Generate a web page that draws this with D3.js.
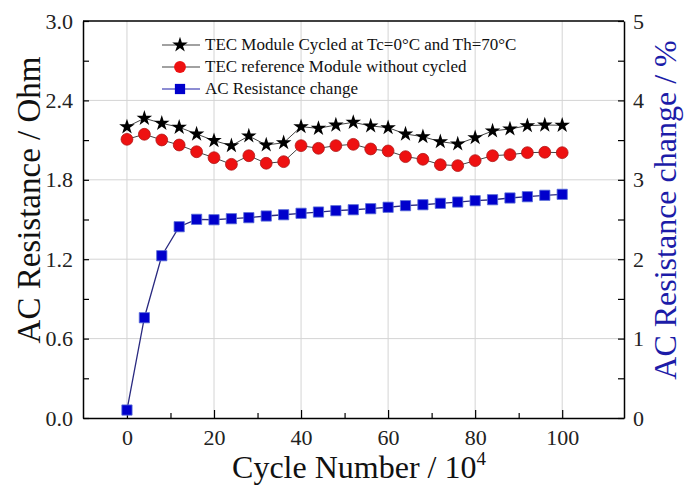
<!DOCTYPE html>
<html>
<head>
<meta charset="utf-8">
<script src="https://cdn.jsdelivr.net/npm/d3@7"></script>
<style>
  body { margin: 0; background: #fff; }
  text { font-family: "Liberation Serif", "Times New Roman", serif; }
</style>
</head>
<body>
<script>
// cycle number (x 10^4)
var cycles = [0, 4, 8, 12, 16, 20, 24, 28, 32, 36, 40, 44, 48, 52, 56, 60, 64, 68, 72, 76, 80, 84, 88, 92, 96, 100];
// AC resistance of cycled module, Ohm
var cycled = [2.20, 2.265, 2.227, 2.197, 2.146, 2.096, 2.058, 2.131, 2.063, 2.080, 2.201, 2.189, 2.214, 2.234, 2.207, 2.194, 2.146, 2.126, 2.088, 2.071, 2.118, 2.169, 2.184, 2.209, 2.214, 2.212];
// reference module, Ohm
var reference = [2.106, 2.144, 2.101, 2.063, 2.012, 1.967, 1.917, 1.982, 1.925, 1.937, 2.058, 2.038, 2.058, 2.068, 2.033, 2.018, 1.975, 1.955, 1.914, 1.907, 1.945, 1.982, 1.990, 2.005, 2.008, 2.005];
// AC resistance change, %
var change = [0.10, 1.263, 2.044, 2.409, 2.502, 2.497, 2.510, 2.523, 2.544, 2.560, 2.578, 2.594, 2.611, 2.623, 2.636, 2.654, 2.674, 2.686, 2.704, 2.720, 2.737, 2.749, 2.771, 2.787, 2.805, 2.817];

var xTicks = [0, 20, 40, 60, 80, 100];
var yTicks = [0, 0.6, 1.2, 1.8, 2.4, 3.0];
var y2Ticks = [0, 1, 2, 3, 4, 5];
var legendLabels = ['TEC Module Cycled at Tc=0\u00B0C and Th=70\u00B0C', 'TEC reference Module without cycled', 'AC Resistance change'];

var width = 696, height = 489;
var pL = 83, pR = 624, pT = 21, pB = 418;

var svg = d3.select('body').append('svg').attr('width', width).attr('height', height);

var x = d3.scaleLinear().domain([-10.1, 114.2]).range([pL, pR]);
var y = d3.scaleLinear().domain([0, 3]).range([pB, pT]);
var y2 = d3.scaleLinear().domain([0, 5]).range([pB, pT]);

// grid
svg.append('g').selectAll('line').data(xTicks).enter().append('line')
  .attr('x1', function(d) { return x(d); }).attr('x2', function(d) { return x(d); })
  .attr('y1', pT).attr('y2', pB)
  .attr('stroke', '#d4d4d4').attr('stroke-width', 1);
svg.append('g').selectAll('line').data(yTicks.slice(1, -1)).enter().append('line')
  .attr('y1', function(d) { return y(d); }).attr('y2', function(d) { return y(d); })
  .attr('x1', pL).attr('x2', pR)
  .attr('stroke', '#d4d4d4').attr('stroke-width', 1);

// axes (ticks inward)
var xAxis = svg.append('g').attr('transform', 'translate(0,' + pB + ')')
  .call(d3.axisBottom(x).tickValues(d3.range(0, 101, 10)).tickSizeInner(-7).tickSizeOuter(0).tickPadding(11)
    .tickFormat(function(d) { return d % 20 === 0 ? d : ''; }));
xAxis.selectAll('.tick line').attr('y2', function(d) { return d % 20 === 0 ? -8 : -5; });

var yAxis = svg.append('g').attr('transform', 'translate(' + pL + ',0)')
  .call(d3.axisLeft(y).tickValues(d3.range(0, 3.01, 0.3)).tickSizeInner(-6).tickSizeOuter(0).tickPadding(10)
    .tickFormat(function(d, i) { return i % 2 === 0 ? d3.format('.1f')(d) : ''; }));

var y2Axis = svg.append('g').attr('transform', 'translate(' + pR + ',0)')
  .call(d3.axisRight(y2).tickValues(d3.range(0, 5.01, 0.5)).tickSizeInner(-6).tickSizeOuter(0).tickPadding(9)
    .tickFormat(function(d, i) { return i % 2 === 0 ? d : ''; }));

svg.selectAll('.domain').attr('stroke', '#000').attr('stroke-width', 1.5);
svg.selectAll('.tick line').attr('stroke', '#000').attr('stroke-width', 1.2);
svg.selectAll('.tick text').attr('font-family', '"Liberation Serif", serif').attr('font-size', 22).attr('fill', '#222');

// top frame
svg.append('line').attr('x1', pL).attr('x2', pR).attr('y1', pT).attr('y2', pT)
  .attr('stroke', '#000').attr('stroke-width', 1.5);

// axis titles
svg.append('text').attr('x', 359).attr('y', 478).attr('text-anchor', 'middle')
  .attr('font-size', 32).attr('fill', '#111')
  .text('Cycle Number / 10').append('tspan').attr('dy', -13).attr('font-size', 19).text('4');
svg.append('text').attr('transform', 'translate(40,200) rotate(-90)').attr('text-anchor', 'middle')
  .attr('font-size', 33).attr('fill', '#111').text('AC Resistance / Ohm');
svg.append('text').attr('transform', 'translate(676,210) rotate(-90)').attr('text-anchor', 'middle')
  .attr('font-size', 32).attr('fill', '#1c1ca8').text('AC Resistance change / %');

// lines
var lineL = d3.line().x(function(d, i) { return x(cycles[i]); }).y(function(d) { return y(d); });
var lineR = d3.line().x(function(d, i) { return x(cycles[i]); }).y(function(d) { return y2(d); });

svg.append('path').datum(cycled).attr('d', lineL).attr('fill', 'none').attr('stroke', '#444').attr('stroke-width', 1);
svg.append('path').datum(reference).attr('d', lineL).attr('fill', 'none').attr('stroke', '#444').attr('stroke-width', 1);
svg.append('path').datum(change).attr('d', lineR).attr('fill', 'none').attr('stroke', '#2a2a80').attr('stroke-width', 1.3);

var star = d3.symbol().type(d3.symbolStar).size(75);
var circle = d3.symbol().type(d3.symbolCircle).size(110);
var square = d3.symbol().type(d3.symbolSquare).size(105);

svg.append('g').selectAll('path').data(cycled).enter().append('path')
  .attr('d', star).attr('transform', function(d, i) { return 'translate(' + x(cycles[i]) + ',' + y(d) + ')'; })
  .attr('fill', '#000');
svg.append('g').selectAll('path').data(reference).enter().append('path')
  .attr('d', circle).attr('transform', function(d, i) { return 'translate(' + x(cycles[i]) + ',' + y(d) + ')'; })
  .attr('fill', '#ee1111').attr('stroke', '#b01818').attr('stroke-width', 0.8);
svg.append('g').selectAll('path').data(change).enter().append('path')
  .attr('d', square).attr('transform', function(d, i) { return 'translate(' + x(cycles[i]) + ',' + y2(d) + ')'; })
  .attr('fill', '#0000cc').attr('stroke', '#5a6fd8').attr('stroke-width', 0.8);

// legend
var legY = [45, 67, 89];
var legSym = [star, circle, square];
var legFill = ['#000', '#ee1111', '#0000cc'];
var legLine = ['#444', '#444', '#1c1ca8'];
legendLabels.forEach(function(lab, i) {
  var g = svg.append('g').attr('transform', 'translate(0,' + legY[i] + ')');
  g.append('line').attr('x1', 162).attr('x2', 200).attr('y1', 0).attr('y2', 0).attr('stroke', legLine[i]).attr('stroke-width', 1.2);
  g.append('path').attr('d', legSym[i]).attr('transform', 'translate(180,0)').attr('fill', legFill[i]);
  g.append('text').attr('x', 205).attr('y', 5).attr('font-size', 17).attr('fill', '#111').text(lab);
});
</script>
</body>
</html>
